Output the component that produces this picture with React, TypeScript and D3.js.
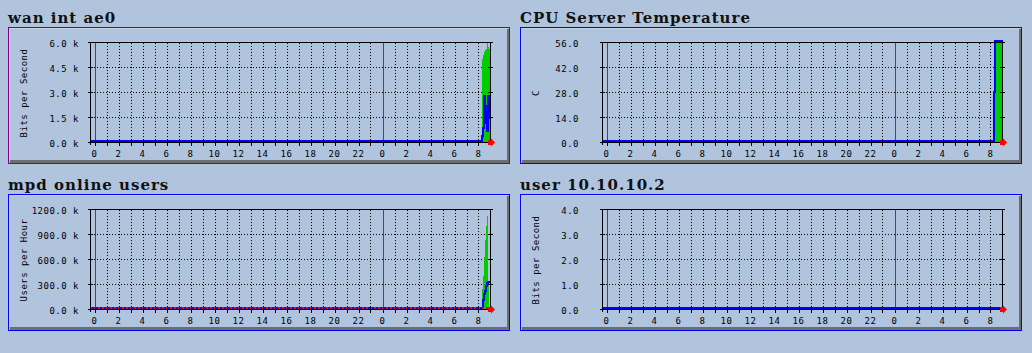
import React, { useEffect, useRef } from 'react';
import * as d3 from 'd3';

// time axis: minutes since the first midnight
const timeDomain = [-25, 1980];
const hourGrid = d3.range(0, 33);
const labelHours = [0, 2, 4, 6, 8, 10, 12, 14, 16, 18, 20, 22, 24, 26, 28, 30, 32];
const labelText = ['0', '2', '4', '6', '8', '10', '12', '14', '16', '18', '20', '22', '0', '2', '4', '6', '8'];
const midnightHours = [0, 24];

// wan int ae0 (k bits per second)
const wanMinutes = [-25, 1935, 1940, 1945, 1950, 1955, 1960, 1965, 1970, 1975];
const wanIn = [0, 5.0, 5.2, 5.4, 5.5, 5.6, 5.97, 5.7, 5.6, 5.55];
const wanOut = [0, 0.3, 0.8, 2.7, 1.1, 2.1, 0.6, 2.7, 1.4, 1.5];
const wanTicks = [0, 1.5, 3, 4.5, 6];

// CPU Server Temperature (C)
const cpuMinutes = [-25, 1935, 1940];
const cpuA = [0, 55.3, 56];
const cpuB = [0, 27.3, 56];
const cpuTicks = [0, 14, 28, 42, 56];

// mpd online users (k users per hour)
const mpdMinutes = [-25, 1935, 1940, 1945, 1950, 1955, 1960, 1965, 1970, 1975];
const mpdIn = [0, 240, 400, 620, 830, 1000, 1120, 320, 0, 0];
const mpdOut = [0, 0, 100, 170, 210, 270, 300, 310, 310, 310];
const mpdZeroMinutes = [-25];
const mpdZero = [0];
const mpdTicks = [0, 300, 600, 900, 1200];

// user 10.10.10.2 (bits per second)
const userMinutes = [-25];
const userIn = [0];
const userOut = [0];
const userTicks = [0, 1, 2, 3, 4];

const BG = '#B0C4DE';
const GREEN = '#00CC00';
const BLUE = '#0000FF';
const RED = '#FF0000';
const SHADOW = '#6E6E6E';

type Series = { t: number[]; v: number[] };

interface Panel {
  title: string;
  unit: string;
  border: string;
  ox: number;
  oy: number;
  labelGap: number;
  ticks: number[];
  fmt: (v: number) => string;
  area: Series;
  line: Series;
  dashed?: Series;
}

const panels: Panel[] = [
  {
    title: 'wan int ae0', unit: 'Bits per Second', border: '#800080', ox: 0, oy: 0, labelGap: 11,
    ticks: wanTicks, fmt: v => `${v.toFixed(1)} k`,
    area: { t: wanMinutes, v: wanIn }, line: { t: wanMinutes, v: wanOut },
  },
  {
    title: 'CPU Server Temperature', unit: 'C', border: BLUE, ox: 512, oy: 0, labelGap: 23,
    ticks: cpuTicks, fmt: v => v.toFixed(1),
    area: { t: cpuMinutes, v: cpuA }, line: { t: cpuMinutes, v: cpuB },
  },
  {
    title: 'mpd online users', unit: 'Users per Hour', border: BLUE, ox: 0, oy: 167, labelGap: 11,
    ticks: mpdTicks, fmt: v => `${v.toFixed(1)} k`,
    area: { t: mpdMinutes, v: mpdIn }, line: { t: mpdMinutes, v: mpdOut },
    dashed: { t: mpdZeroMinutes, v: mpdZero },
  },
  {
    title: 'user 10.10.10.2', unit: 'Bits per Second', border: BLUE, ox: 512, oy: 167, labelGap: 23,
    ticks: userTicks, fmt: v => v.toFixed(1),
    area: { t: userMinutes, v: userIn }, line: { t: userMinutes, v: userOut },
  },
];

const MONO = "'DejaVu Sans Mono', monospace";

function toPoints(s: Series) {
  const pts = s.t.map((t, i) => ({ t, v: s.v[i] }));
  // close the last step at the end of the time window
  pts.push({ t: timeDomain[1], v: s.v[s.v.length - 1] });
  return pts;
}

function drawPanel(root: d3.Selection<SVGSVGElement, unknown, null, undefined>, p: Panel, idx: number) {
  const left = 90, right = 491, top = 42, bottom = 142;
  const g = root.append('g').attr('transform', `translate(${p.ox},${p.oy})`);

  // frame with 3d shading
  g.append('rect').attr('x', 8.5).attr('y', 27.5).attr('width', 501).attr('height', 136)
    .attr('fill', BG).attr('stroke', p.border);
  g.append('path').attr('d', 'M9.5,160 V28.5 H507').attr('fill', 'none').attr('stroke', '#C9D4E3');
  g.append('rect').attr('x', 507).attr('y', 29).attr('width', 2).attr('height', 134).attr('fill', SHADOW);
  g.append('rect').attr('x', 10).attr('y', 160).attr('width', 499).attr('height', 3).attr('fill', SHADOW);

  g.append('text').attr('x', 8).attr('y', 22.5)
    .style('font-family', "'DejaVu Serif', serif").style('font-weight', 'bold').style('font-size', '15px')
    .style('letter-spacing', '1px').attr('fill', '#111').text(p.title);

  const x = d3.scaleLinear().domain(timeDomain).range([left, right]);
  const y = d3.scaleLinear().domain([0, p.ticks[p.ticks.length - 1]]).range([bottom, top]);
  const px = (m: number) => Math.floor(x(m)) + 0.5;
  const py = (v: number) => Math.round(y(v)) + 0.5;

  // grid
  const grid = g.append('g').attr('stroke', '#000').attr('stroke-dasharray', '1 2').attr('shape-rendering', 'crispEdges');
  hourGrid.forEach(h => {
    grid.append('line').attr('x1', px(h * 60)).attr('x2', px(h * 60)).attr('y1', top + 1).attr('y2', bottom);
  });
  p.ticks.slice(1, -1).forEach(v => {
    grid.append('line').attr('x1', left + 1).attr('x2', right - 1).attr('y1', py(v)).attr('y2', py(v));
  });

  midnightHours.forEach(h => {
    g.append('line').attr('x1', px(h * 60)).attr('x2', px(h * 60)).attr('y1', top).attr('y2', bottom)
      .attr('stroke', RED).attr('stroke-width', 1.2).attr('shape-rendering', 'crispEdges');
  });

  // data
  const clipId = `clip${idx}`;
  g.append('clipPath').attr('id', clipId).append('rect')
    .attr('x', left).attr('y', top - 3).attr('width', right - left).attr('height', bottom - top + 3);
  const data = g.append('g').attr('clip-path', `url(#${clipId})`);

  const area = d3.area<{ t: number; v: number }>()
    .x(d => x(d.t)).y0(y(0)).y1(d => y(d.v)).curve(d3.curveStepAfter);
  data.append('path').datum(toPoints(p.area)).attr('d', area).attr('fill', GREEN)
    .attr('shape-rendering', 'crispEdges');

  const line = d3.line<{ t: number; v: number }>()
    .x(d => x(d.t)).y(d => y(d.v) - 1).curve(d3.curveStepAfter);
  data.append('path').datum(toPoints(p.line)).attr('d', line).attr('fill', 'none')
    .attr('stroke', BLUE).attr('stroke-width', 2).attr('shape-rendering', 'crispEdges');
  if (p.dashed) {
    data.append('path').datum(toPoints(p.dashed)).attr('d', line).attr('fill', 'none')
      .attr('stroke', RED).attr('stroke-width', 2).attr('stroke-dasharray', '2 2')
      .attr('shape-rendering', 'crispEdges');
  }

  // axes and frame lines
  const ax = g.append('g').attr('stroke', '#000').attr('shape-rendering', 'crispEdges');
  ax.append('line').attr('x1', left).attr('x2', right).attr('y1', top + 0.5).attr('y2', top + 0.5);
  ax.append('line').attr('x1', right - 0.5).attr('x2', right - 0.5).attr('y1', top).attr('y2', bottom);
  ax.append('line').attr('x1', left + 0.5).attr('x2', left + 0.5).attr('y1', top).attr('y2', bottom + 3);
  ax.append('line').attr('x1', left - 2).attr('x2', right).attr('y1', bottom + 0.5).attr('y2', bottom + 0.5);
  p.ticks.forEach(v => {
    ax.append('line').attr('x1', left - 2).attr('x2', left + 3).attr('y1', py(v)).attr('y2', py(v));
    ax.append('line').attr('x1', right - 3).attr('x2', right + 2).attr('y1', py(v)).attr('y2', py(v));
  });
  hourGrid.forEach(h => {
    ax.append('line').attr('x1', px(h * 60)).attr('x2', px(h * 60)).attr('y1', bottom - 2).attr('y2', bottom + 4);
  });

  // arrow at the end of the time axis
  g.append('polygon')
    .attr('points', `${right - 3},${bottom - 2} ${right},${bottom - 2} ${right},${bottom - 3.5} ${right + 4},${bottom + 0.5} ${right},${bottom + 4.5} ${right},${bottom + 3} ${right - 3},${bottom + 3}`)
    .attr('fill', RED);

  // labels
  const lab = g.append('g').style('font-family', MONO).style('font-size', '9px')
    .style('letter-spacing', '0.5px').attr('fill', '#000');
  p.ticks.forEach(v => {
    lab.append('text').attr('x', left - p.labelGap).attr('y', y(v) + 5).attr('text-anchor', 'end').text(p.fmt(v));
  });
  labelHours.forEach((h, i) => {
    lab.append('text').attr('x', x(h * 60) - 0.5).attr('y', bottom + 15).attr('text-anchor', 'middle').text(labelText[i]);
  });
  lab.append('text')
    .attr('transform', `translate(${left - 66},${(top + bottom) / 2 + 1}) rotate(-90)`)
    .attr('text-anchor', 'middle').attr('dominant-baseline', 'central').text(p.unit);
}

export default function App() {
  const ref = useRef<SVGSVGElement>(null);

  useEffect(() => {
    const svg = d3.select(ref.current!);
    svg.selectAll('*').remove();
    svg.append('rect').attr('width', 1032).attr('height', 353).attr('fill', BG);
    panels.forEach((p, i) => drawPanel(svg, p, i));
  }, []);

  return (
    <svg ref={ref} width={1032} height={353}
      style={{ position: 'absolute', left: 0, top: 0, display: 'block' }} />
  );
}
